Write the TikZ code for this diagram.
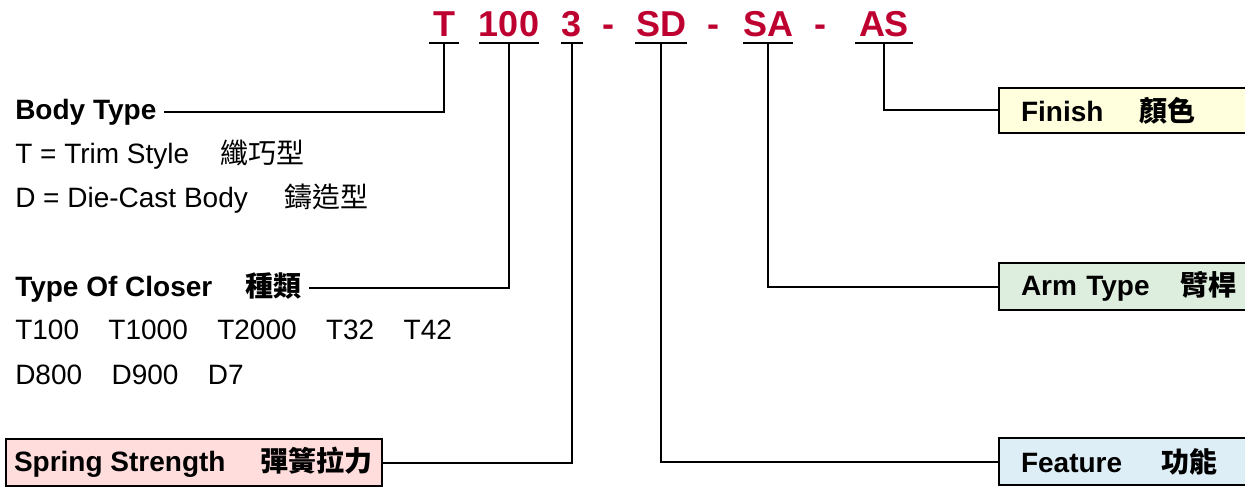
\documentclass[tikz,border=0pt]{standalone}
\usepackage{fontspec}
\setmainfont{Liberation Sans}
\newfontfamily\cjk{Noto Sans CJK TC}
\newcommand\zh[1]{{\cjk #1}}
\definecolor{codered}{RGB}{190,0,48}
\definecolor{fillyellow}{RGB}{255,255,221}
\definecolor{fillgreen}{RGB}{221,237,222}
\definecolor{fillblue}{RGB}{221,238,246}
\definecolor{fillpink}{RGB}{255,221,221}
\begin{document}
\begin{tikzpicture}[x=0.75pt,y=-0.75pt,
  conn/.style={line width=1.5pt, line join=miter},
  codepart/.style={anchor=base, font=\fontsize{27}{30}\selectfont\bfseries, text=codered,
     inner xsep=0pt, inner ysep=0pt, text depth=4.5pt, outer sep=0pt},
  codedash/.style={anchor=base, font=\fontsize{27}{30}\selectfont\bfseries, text=codered, inner sep=0pt},
  lbl/.style={anchor=west, font=\fontsize{21}{24}\selectfont, inner xsep=5.25pt, inner ysep=2pt},
  lblbold/.style={lbl, font=\fontsize{21}{24}\selectfont\bfseries},
  rbox/.style={anchor=west, draw=black, line width=1.5pt, font=\fontsize{21}{24}\selectfont\bfseries,
     inner xsep=16.5pt, text width=195pt, align=left, minimum height=35pt},
]
\useasboundingbox (0,0) rectangle (1245,488);

% code
\node[codepart, minimum width=22.5pt]  (cT)   at (444,37) {T};
\node[codepart, minimum width=42.75pt] (c100) at (509,37) {100};
\node[codepart, minimum width=16.5pt]  (c3)   at (572,37) {3};
\node[codedash] (d1) at (608,37) {-};
\node[codepart, minimum width=39pt]    (cSD)  at (661,37) {SD};
\node[codedash] (d2) at (713,37) {-};
\node[codepart, minimum width=36.75pt] (cSA)  at (768,37) {SA};
\node[codedash] (d3) at (820,37) {-};
\node[codepart, minimum width=43.5pt]  (cAS)  at (884,37) {AS};
\foreach \n in {cT,c100,c3,cSD,cSA,cAS}
  \draw[conn] (\n.south west) -- (\n.south east);

% left labels
\node[lblbold] (body) at (8,112) {Body Type};
\node[lbl] (bodyT) at (8,155) {T = Trim Style\hspace{1.1em}\zh{纖巧型}};
\node[lbl] (bodyD) at (8,199) {D = Die-Cast Body\hspace{1.3em}\zh{鑄造型}};
\node[lblbold] (closer) at (8,288) {Type Of Closer\hspace{1.2em}\zh{種類}};
\node[lbl] (closerT) at (8,330) {T100\hspace{1.05em}T1000\hspace{1.05em}T2000\hspace{1.05em}T32\hspace{1.05em}T42};
\node[lbl] (closerD) at (8,375) {D800\hspace{1.05em}D900\hspace{1.05em}D7};

\node[anchor=west, draw=black, line width=1.5pt, fill=fillpink, font=\fontsize{21}{24}\selectfont\bfseries,
      inner xsep=6pt, inner ysep=0pt, minimum height=35.25pt]
  (spring) at (5,462.5) {\makebox[270pt][l]{Spring Strength\hspace{1.25em}\zh{彈簧拉力}}};

% right boxes
\node[rbox, fill=fillyellow, minimum height=33.75pt] (finish) at (998,110.5) {Finish\hspace{1.3em}\zh{顏色}};
\node[rbox, fill=fillgreen, minimum height=35.25pt] (arm) at (998,286.5) {Arm Type\hspace{1.1em}\zh{臂桿}};
\node[rbox, fill=fillblue, minimum height=35.25pt] (feature) at (998,461.5) {Feature\hspace{1.4em}\zh{功能}};

% connectors
\draw[conn] (cT.south) |- (body.east);
\draw[conn] (c100.south) |- (closer.east);
\draw[conn] (c3.south) |- (spring.east);
\draw[conn] (cSD.south) |- (feature.west);
\draw[conn] (cSA.south) |- (arm.west);
\draw[conn] (cAS.south) |- (finish.west);
\end{tikzpicture}
\end{document}
